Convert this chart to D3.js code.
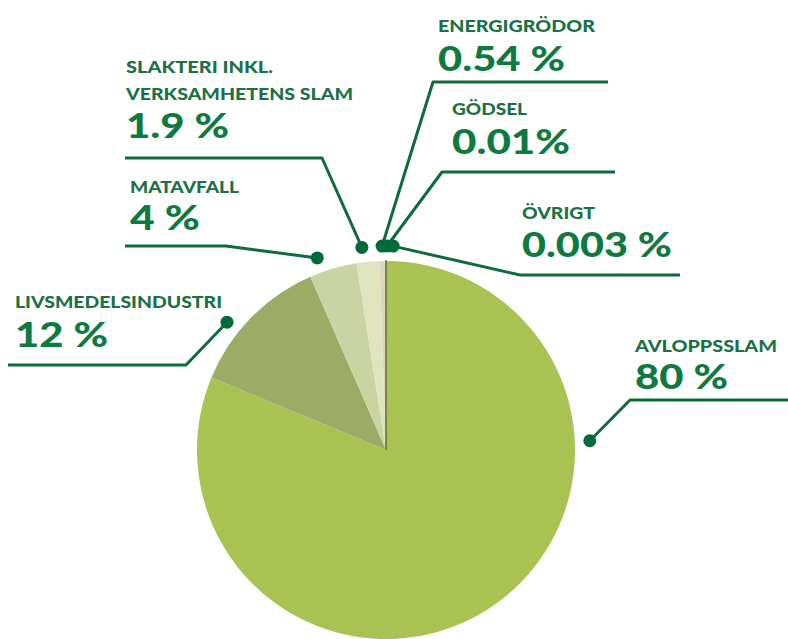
<!DOCTYPE html>
<html>
<head>
<meta charset="utf-8">
<script src="https://cdn.jsdelivr.net/npm/d3@7"></script>
<style>
  html, body { margin: 0; padding: 0; background: #ffffff; }
  svg { display: block; }
  text { font-family: Lato, "Open Sans", sans-serif; font-weight: 900; }
</style>
</head>
<body>
<svg id="chart" width="788" height="639"></svg>
<script>
// ---- data ----
const categories = ["AVLOPPSSLAM", "LIVSMEDELSINDUSTRI", "MATAVFALL", "SLAKTERI INKL. VERKSAMHETENS SLAM", "ENERGIGRÖDOR", "GÖDSEL", "ÖVRIGT"];
const nameLines = [["AVLOPPSSLAM"], ["LIVSMEDELSINDUSTRI"], ["MATAVFALL"], ["SLAKTERI INKL.", "VERKSAMHETENS SLAM"], ["ENERGIGRÖDOR"], ["GÖDSEL"], ["ÖVRIGT"]];
const values = [80, 12, 4, 1.9, 0.54, 0.01, 0.003];
const valueLabels = ["80 %", "12 %", "4 %", "1.9 %", "0.54 %", "0.01%", "0.003 %"];
const sliceColors = ["#a9c252", "#9cab66", "#c9d4a2", "#dfe4bf", "#ddd6c2", "#7f8c45", "#7f8c45"];

// ---- annotation layout (label placement) ----
const labelLayout = [
  { x: 635, nameY: [352], valueY: 389, lineY: 400, elbowX: 630, endX: 788, dotDeg: 87.4, nameW: [142], valueW: 93 },
  { x: 15,  nameY: [308], valueY: 347, lineY: 365, elbowX: 186, endX: 8,   dotDeg: 308.8, nameW: [207], valueW: 93 },
  { x: 130, nameY: [193], valueY: 230, lineY: 246, elbowX: 226, endX: 125, dotDeg: 340.3, nameW: [109], valueW: 70 },
  { x: 126, nameY: [73, 100], valueY: 138, lineY: 158, elbowX: 322, endX: 125, dotDeg: 353.2, nameW: [147, 227], valueW: 103 },
  { x: 438, nameY: [32], valueY: 71, lineY: 82, elbowX: 433, endX: 608, dotDeg: 358.9, nameW: [157], valueW: 127 },
  { x: 452, nameY: [115], valueY: 154, lineY: 172, elbowX: 442, endX: 615, dotDeg: 0.3, nameW: [75], valueW: 118 },
  { x: 522, nameY: [219], valueY: 257, lineY: 275, elbowX: 520, endX: 680, dotDeg: 2.0, nameW: [73], valueW: 150 }
];

const cx = 386, cy = 450, R = 189, dotR = 204;
const svg = d3.select("#chart");

const pie = d3.pie().sort(null).value(d => d.value).startAngle(0).endAngle(2 * Math.PI);
const arc = d3.arc().innerRadius(0).outerRadius(R);
const data = categories.map((c, i) => ({ cat: c, value: values[i], color: sliceColors[i], i }));
const arcs = pie(data);

const g = svg.append("g").attr("transform", `translate(${cx},${cy})`);
g.selectAll("path.slice")
  .data(arcs)
  .join("path")
  .attr("class", "slice")
  .attr("d", arc)
  .attr("fill", d => d.data.color)
  .attr("stroke", d => d.data.i >= 5 ? "#6f7d3a" : "none")
  .attr("stroke-width", d => d.data.i >= 5 ? 1.2 : 0);

// ---- leader lines and labels ----
const lineColor = "#0d6c3b";
const nameColor = "#1b7145";
const valueColor = "#0f7a40";
const ann = svg.append("g");

labelLayout.forEach((L, i) => {
  const a = L.dotDeg * Math.PI / 180;
  const dx = cx + dotR * Math.sin(a);
  const dy = cy - dotR * Math.cos(a);
  const pts = [[L.endX, L.lineY], [L.elbowX, L.lineY], [dx, dy]];
  ann.append("path")
    .attr("d", d3.line()(pts))
    .attr("fill", "none")
    .attr("stroke", lineColor)
    .attr("stroke-width", 3)
    .attr("stroke-linejoin", "round");
  ann.append("circle")
    .attr("cx", dx).attr("cy", dy).attr("r", 6.5)
    .attr("fill", "#006b38");

  nameLines[i].forEach((t, k) => {
    ann.append("text")
      .attr("x", L.x).attr("y", L.nameY[k])
      .attr("font-size", 17.5)
      .attr("fill", nameColor)
      .attr("textLength", L.nameW[k])
      .attr("lengthAdjust", "spacingAndGlyphs")
      .text(t);
  });
  ann.append("text")
    .attr("x", L.x).attr("y", L.valueY)
    .attr("font-size", 34)
    .attr("fill", valueColor)
    .attr("textLength", L.valueW)
    .attr("lengthAdjust", "spacingAndGlyphs")
    .text(valueLabels[i]);
});
</script>
</body>
</html>
